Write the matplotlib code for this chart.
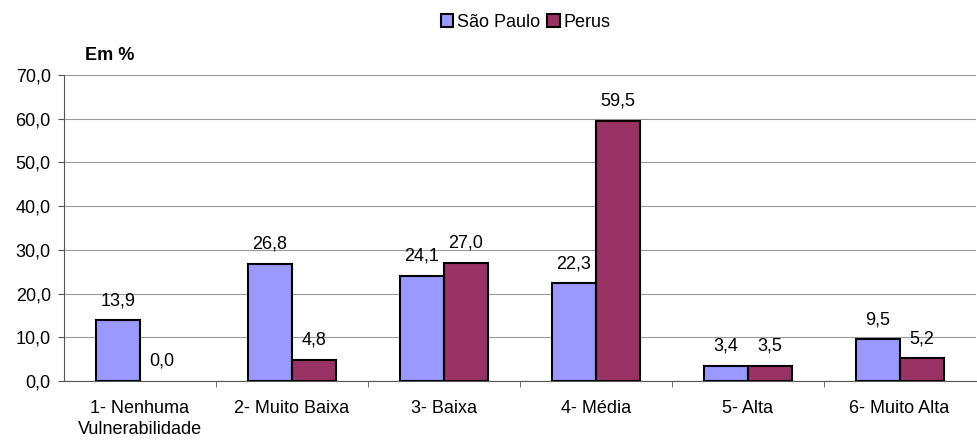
import numpy as np
import matplotlib
matplotlib.use('Agg')
import matplotlib.pyplot as plt
from matplotlib.patches import Patch
from matplotlib.ticker import FuncFormatter

plt.rcParams['font.family'] = ['Liberation Sans', 'DejaVu Sans']
plt.rcParams['font.size'] = 13

categories = ['1- Nenhuma\nVulnerabilidade', '2- Muito Baixa', '3- Baixa',
              '4- Média', '5- Alta', '6- Muito Alta']
sao_paulo = [13.9, 26.8, 24.1, 22.3, 3.4, 9.5]
perus = [0.0, 4.8, 27.0, 59.5, 3.5, 5.2]
colors = ['#9999FF', '#993366']

fig = plt.figure(figsize=(9.77, 4.44), dpi=100)
ax = fig.add_axes([0.0655, 0.142, 0.933, 0.689])

x = np.arange(len(categories))
w = 0.29
b1 = ax.bar(x - w / 2, sao_paulo, w, color=colors[0], edgecolor='black',
            linewidth=1.5, zorder=3)
b2 = ax.bar(x + w / 2, perus, w, color=colors[1], edgecolor='black',
            linewidth=1.5, zorder=3)

for bars, vals in ((b1, sao_paulo), (b2, perus)):
    for rect, v in zip(bars, vals):
        if v == 0:
            rect.set_linewidth(0)
        ax.annotate(f'{v:.1f}'.replace('.', ','),
                    (rect.get_x() + rect.get_width() / 2, v),
                    xytext=(0, 8), textcoords='offset points',
                    ha='center', va='bottom')

ax.set_xlim(-0.5, len(categories) - 0.5)
ax.set_ylim(0, 70)
ax.set_yticks(np.arange(0, 71, 10))
ax.yaxis.set_major_formatter(FuncFormatter(lambda v, p: f'{v:.1f}'.replace('.', ',')))
ax.grid(axis='y', color='#999999', linewidth=0.8, zorder=0)

ax.set_xticks(x)
ax.set_xticklabels(categories, linespacing=1.3)
ax.set_xticks(np.arange(0.5, len(categories) - 0.5, 1), minor=True)
ax.tick_params(axis='x', which='major', length=0, pad=14)
ax.tick_params(axis='x', which='minor', length=4.5, color='#555555')
ax.tick_params(axis='y', length=4.5, pad=5, color='#555555')

for s in ('top', 'right'):
    ax.spines[s].set_visible(False)
ax.spines['left'].set_color('#555555')
ax.spines['bottom'].set_color('#555555')

fig.text(0.1126, 0.876, 'Em %', ha='center', va='center', fontweight='bold')

handles = [Patch(facecolor=c, edgecolor='black', linewidth=1.5) for c in colors]
fig.legend(handles, ['São Paulo', 'Perus'], loc='center', bbox_to_anchor=(0.538, 0.95),
           ncol=2, frameon=False, handlelength=0.7, handleheight=0.7,
           handletextpad=0.2, columnspacing=0.4, borderpad=0)

fig.savefig('out.png', dpi=100)
